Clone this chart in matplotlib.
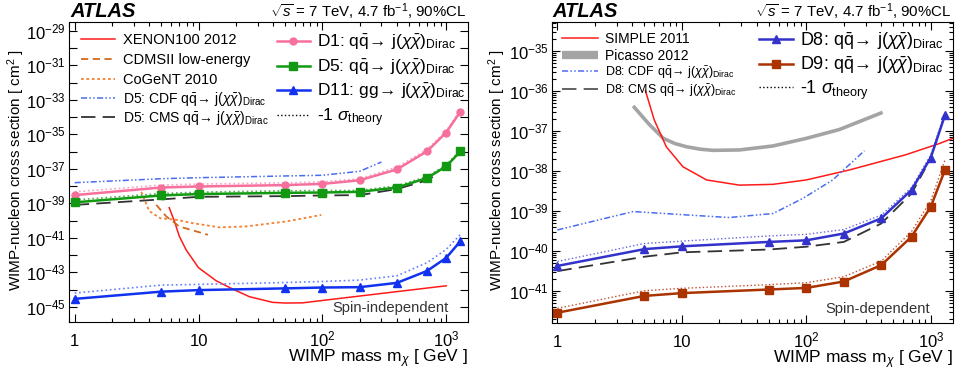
import numpy as np
import matplotlib
matplotlib.use('Agg')
import matplotlib.pyplot as plt
from matplotlib.ticker import FixedLocator, FuncFormatter, LogLocator, NullFormatter
from matplotlib.transforms import offset_copy

plt.rcParams['font.family'] = ['Liberation Sans', 'DejaVu Sans']
plt.rcParams['mathtext.fontset'] = 'custom'
plt.rcParams['mathtext.rm'] = 'Liberation Sans'
plt.rcParams['mathtext.it'] = 'Liberation Sans:italic'
plt.rcParams['mathtext.bf'] = 'Liberation Sans:bold'

# ATLAS limits, masses in GeV, cross sections as log10(cm^2)
mass_atlas = [1, 5, 10, 50, 100, 200, 400, 700, 1000, 1300]

# spin-independent
d1_exp = [-38.52, -38.08, -38.02, -37.94, -37.87, -37.66, -37.03, -35.98, -34.89, -33.68]
d1_m1s_exp = [-38.33, -37.94, -37.88, -37.81, -37.75, -37.57, -36.90, -35.88, -34.80, -33.60]
d5_exp = [-38.94, -38.54, -38.46, -38.39, -38.37, -38.33, -38.08, -37.53, -36.85, -35.99]
d5_m1s_exp = [-38.80, -38.43, -38.35, -38.27, -38.25, -38.25, -37.98, -37.45, -36.78, -35.93]
d11_exp = [-44.54, -44.12, -44.03, -43.93, -43.88, -43.86, -43.61, -42.92, -42.16, -41.20]
d11_m1s_exp = [-44.20, -43.74, -43.70, -43.59, -43.53, -43.45, -43.20, -42.44, -41.67, -40.81]

cdf_d5_mass = [1, 5, 10, 50, 100, 200, 300]
cdf_d5_exp = [-37.80, -37.57, -37.51, -37.41, -37.37, -37.14, -36.60]
cms_d5_mass = [1, 5, 10, 50, 100, 200, 400, 700, 850]
cms_d5_exp = [-39.09, -38.77, -38.62, -38.58, -38.54, -38.52, -38.17, -37.66, -37.30]

xenon_mass = [5.8, 6.4, 7.0, 7.95, 10, 13.9, 18.9, 25.7, 39.6, 50, 69, 128, 304, 1000]
xenon_exp = [-39.25, -40.05, -40.91, -41.70, -42.73, -43.49, -43.97, -44.41, -44.74, -44.78,
             -44.77, -44.54, -44.22, -43.78]
cogent_mass = [3.45, 4.0, 4.9, 6.6, 9.0, 14.8, 24, 50.9, 98]
cogent_exp = [-38.33, -39.44, -39.86, -39.95, -40.15, -40.39, -40.34, -40.05, -39.67]
cdms_mass = [4.56, 5.5, 7.0, 11.9]
cdms_exp = [-39.09, -39.76, -40.34, -40.82]

# spin-dependent
d8_exp = [-40.38, -39.96, -39.89, -39.78, -39.74, -39.57, -39.19, -38.48, -37.67, -36.61]
d8_m1s_exp = [-40.27, -39.82, -39.76, -39.63, -39.59, -39.47, -39.11, -38.42, -37.60, -36.55]
d9_exp = [-41.55, -41.13, -41.06, -40.97, -40.93, -40.77, -40.36, -39.65, -38.90, -37.98]
d9_m1s_exp = [-41.44, -41.00, -40.94, -40.85, -40.80, -40.65, -40.26, -39.52, -38.75, -37.73]

cms_d8_mass = [1, 5, 10, 50, 100, 200, 400, 700, 900]
cms_d8_exp = [-40.51, -40.15, -40.04, -39.97, -39.90, -39.78, -39.32, -38.57, -37.95]
cdf_d8_mass = [1, 4.07, 11.6, 24, 54, 94, 163, 293]
cdf_d8_exp = [-39.48, -39.02, -39.11, -39.17, -39.07, -38.69, -38.23, -37.50]
simple_mass = [5.1, 6.0, 7.5, 10.2, 15.8, 29, 54, 100, 222, 630, 1170, 1500]
simple_exp = [-36.00, -36.73, -37.40, -37.90, -38.23, -38.36, -38.34, -38.23, -37.98, -37.60,
              -37.32, -37.19]
picasso_mass = [4.06, 5.5, 7.1, 8.8, 10.9, 14, 17.8, 29, 54, 100, 184, 410]
picasso_exp = [-36.38, -36.85, -37.19, -37.32, -37.40, -37.46, -37.49, -37.48, -37.38, -37.19,
               -36.97, -36.54]

si_decades = np.arange(-46, -28)
sd_decades = np.arange(-41, -34)


def v(e):
    return 10.0 ** np.array(e)


DIRAC = r'j($\chi\bar{\chi}$)$_{\mathrm{Dirac}}$'
QQ = r'$\mathrm{q}\bar{\mathrm{q}}\!\rightarrow\,$'

fig = plt.figure(figsize=(9.62, 3.80), dpi=100)
axL = fig.add_axes([69 / 962, 58 / 380, 399 / 962, 300 / 380])
axR = fig.add_axes([551.7 / 962, 57.3 / 380, 401 / 962, 300.7 / 380])


def legend_row(ax, fy, label, fs, x0, x1, xt, **kw):
    ax.plot([x0, (x0 + x1) / 2, x1], [fy, fy, fy], transform=ax.transAxes,
            clip_on=False, markevery=[1], **kw)
    tr = offset_copy(ax.transAxes, fig=fig, y=-0.36 * fs, units='points')
    ax.text(xt, fy, label, transform=tr, fontsize=fs, va='baseline', ha='left')


def style_axes(ax):
    ax.set_xscale('log')
    ax.set_yscale('log')
    ax.set_xlim(0.9, 1500)
    ax.xaxis.set_major_locator(FixedLocator([1, 10, 100, 1000]))
    ax.xaxis.set_major_formatter(FuncFormatter(
        lambda x, p: {1: '1', 10: '10'}.get(int(round(x)), r'$10^{%d}$' % round(np.log10(x)))))
    ax.xaxis.set_minor_locator(LogLocator(base=10, subs=np.arange(2, 10), numticks=20))
    ax.xaxis.set_minor_formatter(NullFormatter())
    ax.tick_params(which='both', direction='in', top=True, right=True, width=0.8)
    ax.tick_params(which='major', length=6)
    ax.tick_params(which='minor', length=3)
    ax.tick_params(axis='x', labelsize=12, pad=17.5)
    ax.tick_params(axis='y', labelsize=12, pad=2)
    for t in ax.xaxis.get_major_ticks():
        t.label1.set_va('baseline')
    for s in ax.spines.values():
        s.set_linewidth(0.8)
    ax.set_ylabel(r'WIMP-nucleon cross section [ cm$^{2}$ ]', fontsize=11)
    ax.set_xlabel(r'WIMP mass m$_{\chi}$ [ GeV ]', fontsize=12.5, ha='right')
    ax.xaxis.set_label_coords(1.0, -0.085)
    ax.text(0.003, 1.016, 'ATLAS', transform=ax.transAxes, fontsize=14.5,
            fontweight='bold', style='italic', va='baseline', ha='left')
    ax.text(0.997, 1.016, r'$\sqrt{s}$ = 7 TeV, 4.7 fb$^{-1}$, 90%CL', transform=ax.transAxes,
            fontsize=10.8, va='baseline', ha='right')


# ---------------- left: spin-independent ----------------
ax = axL
style_axes(ax)
ax.set_ylim(10 ** -45.88, 10 ** -28.48)
ax.yaxis.set_major_locator(FixedLocator(10.0 ** si_decades))
ax.yaxis.set_major_formatter(FuncFormatter(
    lambda y, p: r'$10^{%d}$' % round(np.log10(y)) if round(np.log10(y)) % 2 else ''))
ax.yaxis.set_minor_locator(FixedLocator([]))
ax.yaxis.set_label_coords(-0.106, 0.507)

pink, green, blue = '#f7709c', '#119911', '#1133f0'
ax.plot(xenon_mass, v(xenon_exp), color='#ff1a1a', lw=1.1)
ax.plot(cdms_mass, v(cdms_exp), color='#d2691e', lw=1.3, dashes=(4, 2.5))
ax.plot(cogent_mass, v(cogent_exp), color='#f58030', lw=1.3, dashes=(1.5, 1.5))
ax.plot(cdf_d5_mass, v(cdf_d5_exp), color='#4a6cf0', lw=1.1, dashes=(4, 1.5, 1, 1.5, 1, 1.5))
ax.plot(cms_d5_mass, v(cms_d5_exp), color='#333333', lw=1.3, dashes=(8, 4))
ax.plot(mass_atlas, v(d1_m1s_exp), color='#f9a0c0', lw=1.2, ls=':')
ax.plot(mass_atlas, v(d5_m1s_exp), color='#55aa55', lw=1.2, ls=':')
ax.plot(mass_atlas, v(d11_m1s_exp), color='#6680ff', lw=1.2, ls=':')
ax.plot(mass_atlas, v(d1_exp), color=pink, lw=1.8, marker='o', ms=5)
ax.plot(mass_atlas, v(d5_exp), color=green, lw=1.8, marker='s', ms=5.5)
ax.plot(mass_atlas, v(d11_exp), color=blue, lw=1.8, marker='^', ms=5.5)

ax.text(0.952, 0.047, 'Spin-independent', transform=ax.transAxes, fontsize=10.6,
        color='#333333', ha='right', va='center')

c1 = (0.030, 0.115, 0.135)
legend_row(ax, 0.943, 'XENON100 2012', 10.5, *c1, color='#ff1a1a', lw=1.1)
legend_row(ax, 0.877, 'CDMSII low-energy', 10.5, *c1, color='#d2691e', lw=1.3, dashes=(4, 2.5))
legend_row(ax, 0.810, 'CoGeNT 2010', 10.5, *c1, color='#f58030', lw=1.3, dashes=(1.5, 1.5))
legend_row(ax, 0.747, 'D5: CDF ' + QQ + DIRAC, 10, *c1, color='#4a6cf0', lw=1.1,
           dashes=(4, 1.5, 1, 1.5, 1, 1.5))
legend_row(ax, 0.683, 'D5: CMS ' + QQ + DIRAC, 10, *c1, color='#333333', lw=1.3, dashes=(8, 4))
c2 = (0.521, 0.604, 0.622)
legend_row(ax, 0.938, 'D1: ' + QQ + DIRAC, 12.5, *c2, color=pink, lw=1.8, marker='o', ms=5)
legend_row(ax, 0.854, 'D5: ' + QQ + DIRAC, 12.5, *c2, color=green, lw=1.8, marker='s', ms=5.5)
legend_row(ax, 0.773, r'D11: gg$\!\rightarrow\,$' + DIRAC, 12.5, *c2, color=blue, lw=1.8,
           marker='^', ms=5.5)
legend_row(ax, 0.690, r'-1 $\sigma_{\mathrm{theory}}$', 12.5, *c2, color='black', lw=1.0, ls=':')

# ---------------- right: spin-dependent ----------------
ax = axR
style_axes(ax)
ax.set_ylim(10 ** -41.8, 10 ** -34.28)
ax.yaxis.set_major_locator(FixedLocator(10.0 ** sd_decades))
ax.yaxis.set_major_formatter(FuncFormatter(lambda y, p: r'$10^{%d}$' % round(np.log10(y))))
ax.yaxis.set_minor_locator(LogLocator(base=10, subs=np.arange(2, 10), numticks=20))
ax.yaxis.set_minor_formatter(NullFormatter())
ax.yaxis.set_label_coords(-0.110, 0.507)

violet, brown = '#3333cc', '#aa3300'
ax.plot(picasso_mass, v(picasso_exp), color='#a4a4a4', lw=2.6, solid_capstyle='butt')
ax.plot(simple_mass, v(simple_exp), color='#ff1a1a', lw=1.1)
ax.plot(cdf_d8_mass, v(cdf_d8_exp), color='#4a6cf0', lw=1.1, dashes=(4, 1.5, 1, 1.5, 1, 1.5))
ax.plot(cms_d8_mass, v(cms_d8_exp), color='#333333', lw=1.3, dashes=(8, 4))
ax.plot(mass_atlas, v(d8_m1s_exp), color='#6666dd', lw=1.0, ls=':')
ax.plot(mass_atlas, v(d9_m1s_exp), color='#c05030', lw=1.0, ls=':')
ax.plot(mass_atlas, v(d8_exp), color=violet, lw=1.8, marker='^', ms=5.5)
ax.plot(mass_atlas, v(d9_exp), color=brown, lw=1.8, marker='s', ms=5.5)

ax.text(0.943, 0.047, 'Spin-dependent', transform=ax.transAxes, fontsize=10.6,
        color='#333333', ha='right', va='center')

c1 = (0.025, 0.116, 0.133)
legend_row(ax, 0.946, 'SIMPLE 2011', 10, *c1, color='#ff1a1a', lw=1.1)
legend_row(ax, 0.890, 'Picasso 2012', 10, *c1, color='#a4a4a4', lw=6, solid_capstyle='butt')
legend_row(ax, 0.837, 'D8: CDF ' + QQ + DIRAC, 9, *c1, color='#4a6cf0', lw=1.1,
           dashes=(4, 1.5, 1, 1.5, 1, 1.5))
legend_row(ax, 0.776, 'D8: CMS ' + QQ + DIRAC, 9, *c1, color='#555555', lw=1.3, dashes=(8, 4))
c2 = (0.517, 0.602, 0.619)
legend_row(ax, 0.942, 'D8: ' + QQ + DIRAC, 13, *c2, color=violet, lw=1.8, marker='^', ms=5.5)
legend_row(ax, 0.861, 'D9: ' + QQ + DIRAC, 13, *c2, color=brown, lw=1.8, marker='s', ms=5.5)
legend_row(ax, 0.783, r'-1 $\sigma_{\mathrm{theory}}$', 13, *c2, color='black', lw=1.0, ls=':')

fig.savefig('out.png', dpi=100)
